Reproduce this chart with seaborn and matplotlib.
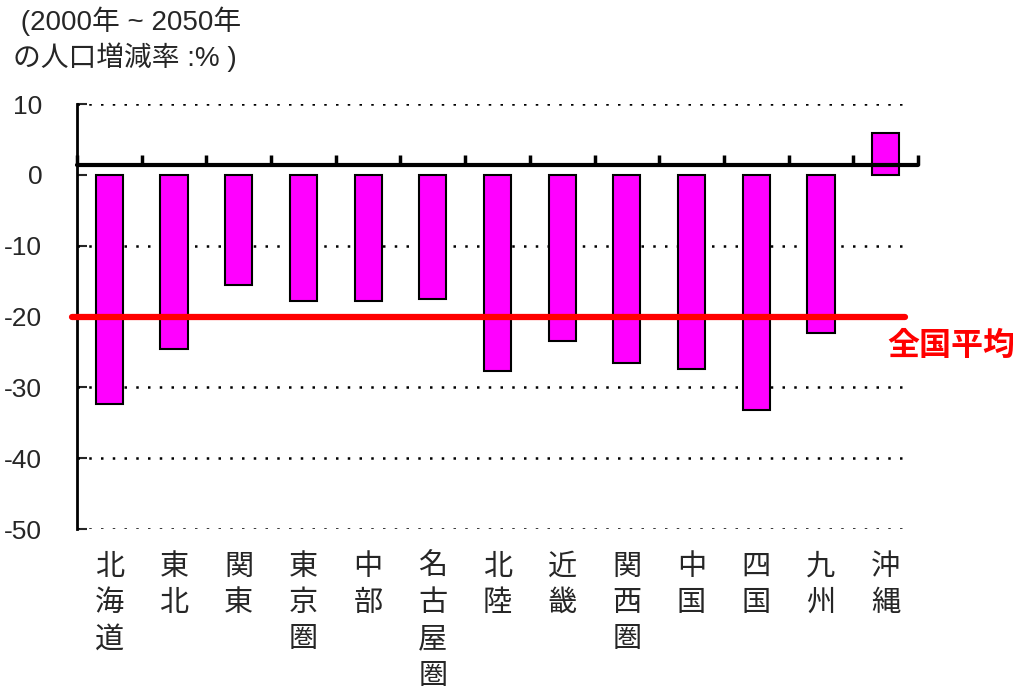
import matplotlib
matplotlib.use("Agg")
import matplotlib.pyplot as plt
import numpy as np
import pandas as pd
import seaborn as sns

# data (2000 -> 2050 population change, %)
regions = ['北海道', '東北', '関東', '東京圏', '中部', '名古屋圏', '北陸',
           '近畿', '関西圏', '中国', '四国', '九州', '沖縄']
change = [-32.3, -24.6, -15.5, -17.8, -17.8, -17.5, -27.7,
          -23.4, -26.5, -27.4, -33.2, -22.3, 5.9]
national_avg = -20
y_ticks = [10, 0, -10, -20, -30, -40, -50]

sns.set_style("white")
fonts = ['Liberation Sans', 'Noto Sans CJK JP']
plt.rcParams['font.family'] = fonts

df = pd.DataFrame({'region': regions, 'change': change})

fig = plt.figure(figsize=(10.13, 6.92), dpi=100)
ax = fig.add_axes([0.0760, 0.2355, 0.8302, 0.6142])

sns.barplot(data=df, x='region', y='change', color='#FF00FF', saturation=1,
            width=0.42, edgecolor='black', linewidth=1.5, ax=ax, zorder=3)

ax.set_xlim(-0.5, len(regions) - 0.5)
ax.set_ylim(min(y_ticks), max(y_ticks))

# dotted grid lines (none at zero)
for t in y_ticks:
    if t != 0:
        ax.axhline(t, xmax=0.99, color='black', lw=1.8, ls=(0, (1, 3.7)), zorder=1)

# national average line
ax.axhline(national_avg, xmin=-0.006, xmax=0.985, color='#FF0000', lw=4.5,
           zorder=4, clip_on=False)
fig.text(887 / 1013, 1 - 347 / 692, '全国平均', color='#FF0000', fontsize=23,
         fontweight='bold', ha='left', va='center', family=fonts)

# category axis line with boundary ticks (drawn slightly above zero)
axis_y = 1.35
bounds = np.arange(len(regions) + 1) - 0.5
ax.axhline(axis_y, color='black', lw=3, zorder=5, clip_on=False)
ax.vlines(bounds, axis_y, axis_y + 1.4, color='black', lw=2.5, zorder=5, clip_on=False)

# spines & ticks
for s in ['top', 'right', 'bottom']:
    ax.spines[s].set_visible(False)
ax.spines['left'].set_linewidth(2)
ax.spines['left'].set_color('black')

ax.set_yticks(y_ticks)
ax.set_yticklabels([str(t) for t in y_ticks], fontsize=19)
ax.tick_params(axis='y', direction='in', length=7, width=1.5, pad=25, left=True)
ax.tick_params(axis='x', length=0, pad=17)
ax.set_xticks(range(len(regions)))
ax.set_xticklabels(['\n'.join(r) for r in regions], fontsize=21, linespacing=1.38, va='top')
ax.set_xlabel('')
ax.set_ylabel('')

fig.text(0.013, 0.99, ' (2000年 ~ 2050年\nの人口増減率 :% )', fontsize=20,
         ha='left', va='top', linespacing=1.25, family=fonts)

fig.savefig('out.png', dpi=100)
